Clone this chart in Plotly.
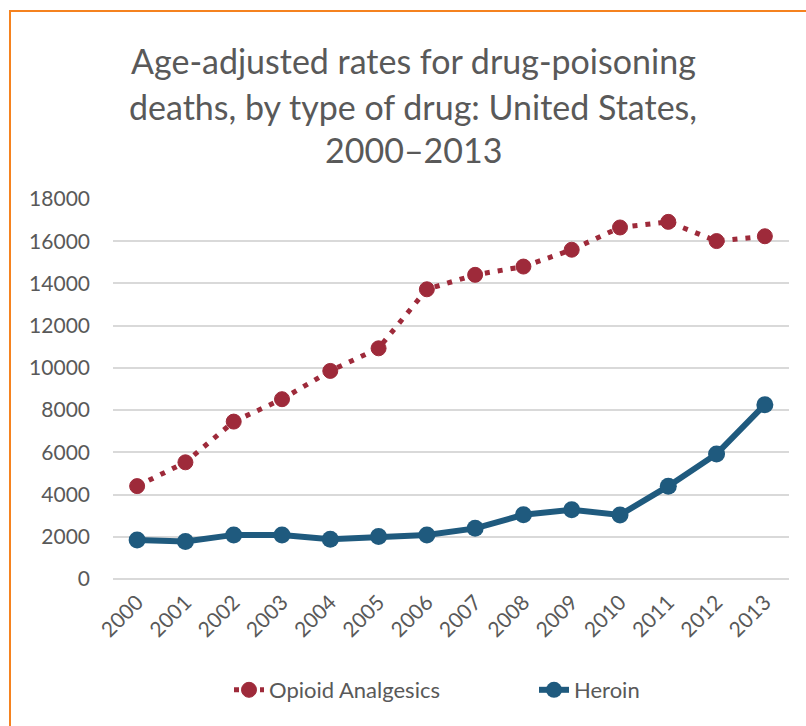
import plotly.graph_objects as go

years = [str(y) for y in range(2000, 2014)]
opioid = [4400, 5528, 7456, 8517, 9857, 10928, 13723, 14408, 14800, 15597, 16651, 16917, 16007, 16235]
heroin = [1842, 1779, 2089, 2080, 1878, 2009, 2088, 2399, 3041, 3278, 3036, 4397, 5925, 8257]
title_lines = ["Age-adjusted rates for drug-poisoning",
               "deaths, by type of drug: United States,",
               "2000\u20132013"]

FONT = "Lato"
GREY = "#595959"
RED = "#9E2A3A"
BLUE = "#1F5A7E"

fig = go.Figure()
fig.add_trace(go.Scatter(
    x=years, y=opioid, name="Opioid Analgesics", mode="lines+markers",
    line=dict(color=RED, width=5, dash="5px,8px"),
    marker=dict(color=RED, size=15, symbol="circle", line=dict(color=RED, width=1)),
    legend="legend",
))
fig.add_trace(go.Scatter(
    x=years, y=heroin, name="Heroin", mode="lines+markers",
    line=dict(color=BLUE, width=6),
    marker=dict(color=BLUE, size=17, symbol="circle"),
    legend="legend2",
))

W, H = 806, 726
L, R, T, B = 113, 17, 199, 147
pw, ph = W - L - R, H - T - B

def px_x(x):
    return (x - L) / pw

def px_y(y):
    return 1 - (y - T) / ph

fig.add_shape(type="rect", xref="paper", yref="paper",
              x0=px_x(10), x1=px_x(830), y0=px_y(11), y1=px_y(760),
              line=dict(color="#F5821F", width=2), fillcolor="rgba(0,0,0,0)", layer="below")

for i, (txt, yc) in enumerate(zip(title_lines, [60, 106, 150])):
    fig.add_annotation(text=txt, xref="paper", yref="paper", x=px_x(413), y=px_y(yc),
                       xanchor="center", yanchor="middle", showarrow=False,
                       font=dict(family=FONT, size=34, color=GREY))

leg_common = dict(orientation="h", xanchor="left", yanchor="middle", y=px_y(690),
                  font=dict(family=FONT, size=22, color=GREY), bgcolor="rgba(0,0,0,0)")
fig.update_layout(
    width=W, height=H,
    margin=dict(l=L, r=R, t=T, b=B),
    paper_bgcolor="white", plot_bgcolor="white",
    font=dict(family=FONT, color=GREY, size=18),
    showlegend=True,
    legend=dict(x=px_x(229), **leg_common),
    legend2=dict(x=px_x(534), **leg_common),
)
fig.update_xaxes(type="category", range=[-0.5, 13.5], tickangle=-45, showgrid=False,
                 showline=False, ticks="", ticklabelstandoff=6,
                 tickfont=dict(family=FONT, size=21, color=GREY), zeroline=False)
fig.update_yaxes(range=[0, 18000], dtick=2000, tickformat="d", showgrid=True,
                 gridcolor="#D9D9D9", gridwidth=1.5, zeroline=True, zerolinecolor="#D9D9D9",
                 zerolinewidth=1.5, showline=False, ticks="", ticklabelstandoff=22,
                 tickfont=dict(family=FONT, size=21, color=GREY))

fig.write_html("out.html")
